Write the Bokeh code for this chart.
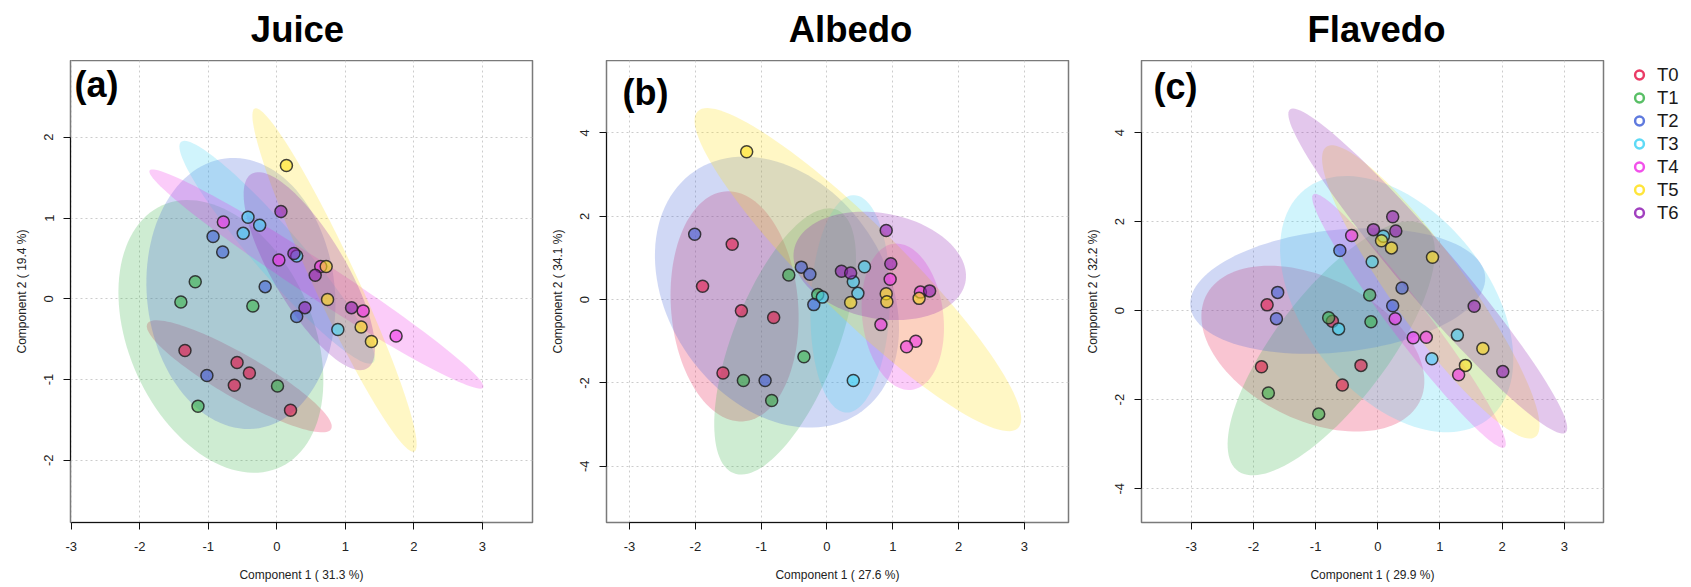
import numpy as np
from bokeh.plotting import figure
from bokeh.models import Range1d, FixedTicker, Label, Legend, LegendItem, ColumnDataSource
from bokeh.layouts import row, column
from bokeh.embed import file_html
from bokeh.resources import INLINE

groups = ["T0", "T1", "T2", "T3", "T4", "T5", "T6"]
colors = ["#e6194B", "#3cb44b", "#4363d8", "#42d4f4", "#f032e6", "#ffe119", "#911eb4"]

x_ticks = [-3, -2, -1, 0, 1, 2, 3]

# ---------------- Juice ----------------
juice_group = ["T0"] * 5 + ["T1"] * 5 + ["T2"] * 5 + ["T3"] * 5 + ["T4"] * 5 + ["T5"] * 5 + ["T6"] * 5
juice_pc1 = [-1.34, -0.58, -0.40, -0.62, 0.20,
             -1.19, -1.40, -0.35, 0.01, -1.15,
             -0.93, -0.79, -0.17, 0.29, -1.02,
             -0.42, -0.25, -0.49, 0.89, 0.29,
             -0.78, 0.03, 0.64, 1.26, 1.74,
             0.14, 0.72, 0.74, 1.23, 1.38,
             0.06, 0.25, 0.56, 0.41, 1.09]
juice_pc2 = [-0.64, -0.79, -0.92, -1.07, -1.38,
             0.21, -0.04, -0.09, -1.08, -1.33,
             0.77, 0.58, 0.15, -0.22, -0.95,
             1.01, 0.91, 0.81, -0.38, 0.53,
             0.95, 0.48, 0.40, -0.15, -0.46,
             1.65, 0.40, -0.01, -0.35, -0.53,
             1.08, 0.56, 0.29, -0.11, -0.11]
juice_y_ticks = [-2, -1, 0, 1, 2]

# ---------------- Albedo ----------------
albedo_group = juice_group
albedo_pc1 = [-1.44, -1.89, -1.30, -0.81, -1.58,
              -0.58, -0.14, -0.35, -1.27, -0.84,
              -2.01, -0.39, -0.26, -0.20, -0.94,
              0.57, 0.40, -0.07, 0.47, 0.40,
              0.96, 1.42, 0.82, 1.35, 1.21,
              -1.22, 0.90, 0.36, 0.91, 1.40,
              0.90, 0.22, 0.36, 0.97, 1.56]
albedo_pc2 = [1.33, 0.32, -0.27, -0.43, -1.76,
              0.59, 0.12, -1.37, -1.94, -2.42,
              1.57, 0.78, 0.61, -0.12, -1.94,
              0.79, 0.43, 0.06, 0.15, -1.94,
              0.49, 0.18, -0.60, -1.00, -1.13,
              3.55, 0.14, -0.07, -0.05, 0.03,
              1.66, 0.68, 0.64, 0.86, 0.21]
albedo_y_ticks = [-4, -2, 0, 2, 4]

# ---------------- Flavedo ----------------
flavedo_group = juice_group
flavedo_pc1 = [-1.78, -0.73, -1.87, -0.27, -0.57,
               -0.13, -0.79, -0.11, -1.76, -0.95,
               -0.61, -1.61, 0.39, 0.24, -1.63,
               0.09, -0.09, -0.63, 1.28, 0.87,
               -0.42, 0.28, 0.57, 0.78, 1.30,
               0.06, 0.22, 0.88, 1.69, 1.41,
               0.24, -0.07, 0.29, 1.55, 2.01]
flavedo_pc2 = [0.13, -0.24, -1.26, -1.23, -1.67,
               0.35, -0.16, -0.25, -1.85, -2.32,
               1.35, 0.41, 0.51, 0.11, -0.18,
               1.67, 1.10, -0.41, -0.55, -1.08,
               1.69, -0.18, -0.61, -0.60, -1.44,
               1.57, 1.41, 1.20, -0.85, -1.23,
               2.11, 1.82, 1.79, 0.10, -1.37]
flavedo_y_ticks = [-4, -2, 0, 2, 4]

panel_titles = ["Juice", "Albedo", "Flavedo"]
panel_tags = ["(a)", "(b)", "(c)"]

FONT = "Liberation Sans"
T95 = np.sqrt(-2.0 * np.log(0.05))  # sqrt(qchisq(0.95, 2))
PH = 526


def conf_ellipse(xs, ys, n=120):
    xs = np.asarray(xs, float)
    ys = np.asarray(ys, float)
    cov = np.cov(np.vstack([xs, ys]))
    vals, vecs = np.linalg.eigh(cov)
    th = np.linspace(0, 2 * np.pi, n)
    circ = np.vstack([np.cos(th), np.sin(th)])
    pts = vecs @ (np.sqrt(np.maximum(vals, 0))[:, None] * circ) * T95
    return xs.mean() + pts[0], ys.mean() + pts[1]


def make_panel(pc1, pc2, grp, xr, yr, yticks, xlabel, ylabel, tag, tag_x, tag_y,
               width, min_left, min_right):
    p = figure(width=width, height=PH, x_range=Range1d(*xr), y_range=Range1d(*yr),
               output_backend="svg", toolbar_location=None,
               min_border_left=min_left, min_border_right=min_right,
               min_border_top=0, min_border_bottom=PH - 462)
    p.background_fill_color = "white"
    p.border_fill_color = "white"
    p.outline_line_color = "#7a7a7a"
    p.outline_line_width = 1.5

    pc1 = np.asarray(pc1)
    pc2 = np.asarray(pc2)
    grp = np.asarray(grp)

    for g, c in zip(groups, colors):
        m = grp == g
        ex, ey = conf_ellipse(pc1[m], pc2[m])
        p.patch(ex, ey, fill_color=c, fill_alpha=0.25, line_color=None)
    for g, c in zip(groups, colors):
        m = grp == g
        src = ColumnDataSource(dict(x=pc1[m], y=pc2[m]))
        p.scatter("x", "y", source=src, size=12, fill_color=c, fill_alpha=0.6,
                  line_color="#222222", line_alpha=0.85, line_width=1.5)

    for ax, ticks, lab in ((p.xaxis[0], x_ticks, xlabel), (p.yaxis[0], yticks, ylabel)):
        ax.ticker = FixedTicker(ticks=ticks)
        ax.bounds = (ticks[0], ticks[-1])
        ax.major_label_overrides = {t: str(t) for t in ticks}
        ax.major_tick_out = 7
        ax.major_tick_in = 0
        ax.minor_tick_out = 0
        ax.minor_tick_in = 0
        ax.axis_line_color = "#111111"
        ax.major_tick_line_color = "#111111"
        ax.major_label_text_font = FONT
        ax.major_label_text_font_size = "13px"
        ax.major_label_text_color = "#222222"
        ax.axis_label = lab
        ax.axis_label_text_font = FONT
        ax.axis_label_text_font_size = "12px"
        ax.axis_label_text_font_style = "normal"
        ax.axis_label_text_color = "#222222"
    p.xaxis.major_label_standoff = 12
    p.xaxis.axis_label_standoff = 14
    p.yaxis.major_label_orientation = "vertical"
    p.yaxis.major_label_standoff = 10
    p.yaxis.axis_label_standoff = 13

    for gr in (p.xgrid, p.ygrid):
        gr.grid_line_color = "#cccccc"
        gr.grid_line_dash = "2 3"
        gr.grid_line_width = 1

    p.add_layout(Label(x=tag_x, y=tag_y, x_units="screen", y_units="screen", text=tag,
                       text_font=FONT, text_font_size="36px", text_font_style="bold",
                       text_align="left", text_baseline="alphabetic", text_color="black"))
    return p


p1 = make_panel(juice_pc1, juice_pc2, juice_group, (-3.01, 3.73), (-2.77, 2.95), juice_y_ticks,
                "Component 1 ( 31.3 %)", "Component 2 ( 19.4 %)", panel_tags[0], 4, 438, 544, 70, 12)
p2 = make_panel(albedo_pc1, albedo_pc2, albedo_group, (-3.35, 3.67), (-5.35, 5.74), albedo_y_ticks,
                "Component 1 ( 27.6 %)", "Component 2 ( 34.1 %)", panel_tags[1], 16, 430, 535, 62, 11)
p3 = make_panel(flavedo_pc1, flavedo_pc2, flavedo_group, (-3.80, 3.63), (-4.76, 5.62), flavedo_y_ticks,
                "Component 1 ( 29.9 %)", "Component 2 ( 32.2 %)", panel_tags[2], 12, 436, 544, 62, 20)

# ---- title strip ----
tfig = figure(width=1690, height=60, x_range=Range1d(0, 1), y_range=Range1d(0, 1),
              output_backend="svg", toolbar_location=None, x_axis_location=None,
              y_axis_location=None, min_border=0)
tfig.min_border_left = tfig.min_border_right = tfig.min_border_top = tfig.min_border_bottom = 0
tfig.outline_line_color = None
tfig.grid.visible = False
for t, cx in zip(panel_titles, [297, 850, 1376]):
    tfig.add_layout(Label(x=cx, y=31, x_units="screen", y_units="screen", text=t,
                          text_font=FONT, text_font_size="36.5px", text_font_style="bold",
                          text_align="center", text_baseline="alphabetic", text_color="black"))

# ---- legend strip ----
lfig = figure(width=67, height=PH, x_range=Range1d(0, 1), y_range=Range1d(0, 1),
              output_backend="svg", toolbar_location=None, x_axis_location=None,
              y_axis_location=None, min_border=0)
lfig.min_border_left = lfig.min_border_right = lfig.min_border_top = 0
lfig.min_border_bottom = PH - 462
lfig.outline_line_color = None
lfig.grid.visible = False
fl1 = np.asarray(flavedo_pc1)
fl2 = np.asarray(flavedo_pc2)
fgrp = np.asarray(flavedo_group)
items = []
for g, c in zip(groups, colors):
    m = fgrp == g
    r = lfig.scatter(x=fl1[m], y=fl2[m], marker="circle", fill_alpha=0, line_color=c,
                     line_alpha=0.85, line_width=2.5, visible=False)
    items.append(LegendItem(label=g, renderers=[r]))
leg = Legend(items=items, location=(5, 298), orientation="vertical",
             glyph_width=22, glyph_height=23, label_height=23, spacing=0, padding=0, margin=0,
             label_standoff=7, label_text_font=FONT, label_text_font_size="18.5px",
             label_text_color="#1a1a1a", background_fill_alpha=0, border_line_color=None)
lfig.add_layout(leg)

layout = column(tfig, row(p1, p2, p3, lfig))
open("out.html", "w").write(file_html(layout, INLINE))
